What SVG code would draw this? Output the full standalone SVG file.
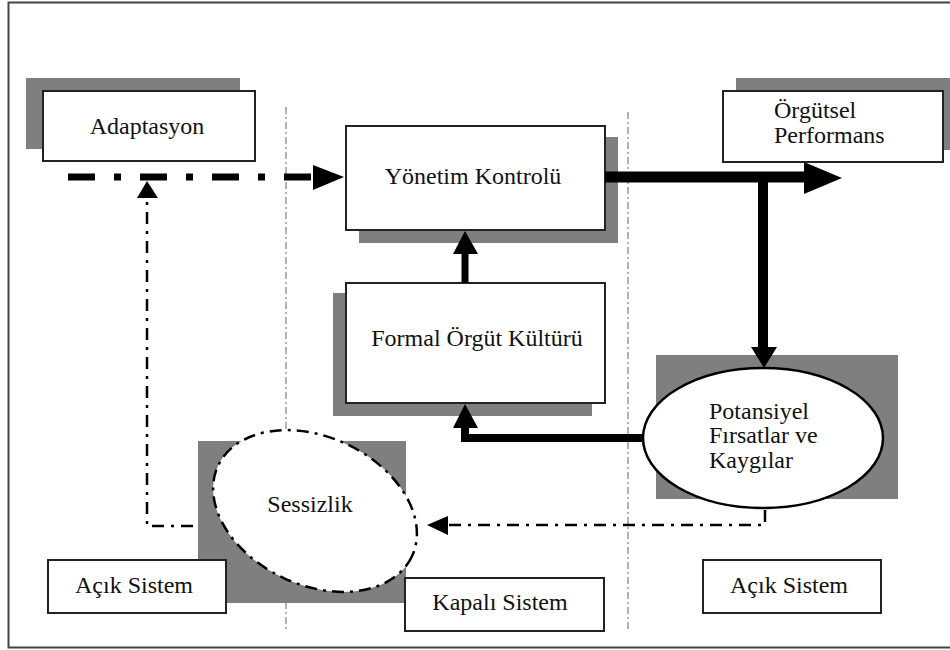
<svg xmlns="http://www.w3.org/2000/svg" width="950" height="650" viewBox="0 0 950 650">
<defs>
<style>
.box{fill:#fff;stroke:#222;stroke-width:2}
.sh{fill:#7f7f7f}
.t{font-family:"Liberation Serif","Times New Roman",serif;font-size:24px;fill:#111}
.sep{stroke:#999;stroke-width:1.5;stroke-dasharray:7 3 2 3;fill:none}
.thick{stroke:#000;fill:none}
.dd{stroke:#000;stroke-width:2.5;fill:none;stroke-dasharray:12 7 3 7}
.ah{fill:#000}
</style>
</defs>
<rect width="950" height="650" fill="#fff"/>
<path d="M950,2.5 H8.5 V647.5 H950" fill="none" stroke="#444" stroke-width="2"/>

<g id="separators">
<line class="sep" x1="286" y1="107" x2="286" y2="632"/>
<line class="sep" x1="628" y1="112" x2="628" y2="632"/>
</g>

<g id="adaptasyon">
<rect class="sh" x="26" y="78" width="214" height="71"/>
<rect class="box" x="43" y="91" width="212" height="70"/>
<text class="t" x="147" y="134" text-anchor="middle">Adaptasyon</text>
</g>

<g id="yonetim">
<rect class="sh" x="359" y="137" width="259" height="106"/>
<rect class="box" x="346" y="126" width="259" height="104"/>
<text class="t" x="473" y="184" text-anchor="middle">Yönetim Kontrolü</text>
</g>

<g id="performans">
<rect class="sh" x="736" y="78" width="214" height="72"/>
<rect class="box" x="723" y="91" width="220" height="71"/>
<text class="t" x="774" y="118">Örgütsel</text>
<text class="t" x="774" y="143">Performans</text>
</g>

<g id="formal">
<rect class="sh" x="333" y="293" width="259" height="123"/>
<rect class="box" x="346" y="283" width="259" height="120"/>
<text class="t" x="477" y="346" text-anchor="middle">Formal Örgüt Kültürü</text>
</g>

<g id="potansiyel">
<rect class="sh" x="656" y="355" width="242" height="144"/>
<ellipse cx="763" cy="438" rx="120" ry="70" fill="#fff" stroke="#000" stroke-width="2.5"/>
<text class="t" x="709" y="419">Potansiyel</text>
<text class="t" x="709" y="443">Fırsatlar ve</text>
<text class="t" x="709" y="468">Kaygılar</text>
</g>

<g id="sessizlik">
<rect class="sh" x="198" y="441" width="208" height="162"/>
<ellipse cx="315" cy="511" rx="107" ry="74" transform="rotate(25 315 511)" fill="#fff" stroke="#000" stroke-width="2.5" stroke-dasharray="12 6 3 6"/>
<text class="t" x="310" y="512" text-anchor="middle">Sessizlik</text>
</g>

<g id="acik-sol">
<rect class="box" x="48" y="560" width="178" height="53"/>
<text class="t" x="134" y="593" text-anchor="middle">Açık Sistem</text>
</g>

<g id="kapali">
<rect class="box" x="405" y="578" width="199" height="53"/>
<text class="t" x="500" y="610" text-anchor="middle">Kapalı Sistem</text>
</g>

<g id="acik-sag">
<rect class="box" x="703" y="560" width="178" height="53"/>
<text class="t" x="789" y="593" text-anchor="middle">Açık Sistem</text>
</g>

<g id="connectors">
<line x1="68" y1="177" x2="313" y2="177" stroke="#000" stroke-width="7" stroke-dasharray="27 19 7 19"/>
<polygon class="ah" points="313,165 344,177 313,190"/>
<line class="thick" x1="605" y1="177" x2="806" y2="177" stroke-width="11"/>
<polygon class="ah" points="804,162 842,178 804,194"/>
<line class="thick" x1="763" y1="177" x2="763" y2="349" stroke-width="10"/>
<polygon class="ah" points="751,347 777,347 764,368"/>
<line class="thick" x1="465" y1="283" x2="465" y2="252" stroke-width="7"/>
<polygon class="ah" points="453,254 478,254 465,231"/>
<polyline class="thick" points="643,438 465,438 465,426" stroke-width="8"/>
<polygon class="ah" points="453,428 478,428 465,404"/>
<polyline class="dd" points="765,510 765,525 448,525"/>
<polygon class="ah" points="448,516 427,525 448,535"/>
<polyline class="dd" points="193,526 147,526 147,197"/>
<polygon class="ah" points="137,198 147,181 158,198"/>
</g>
</svg>
